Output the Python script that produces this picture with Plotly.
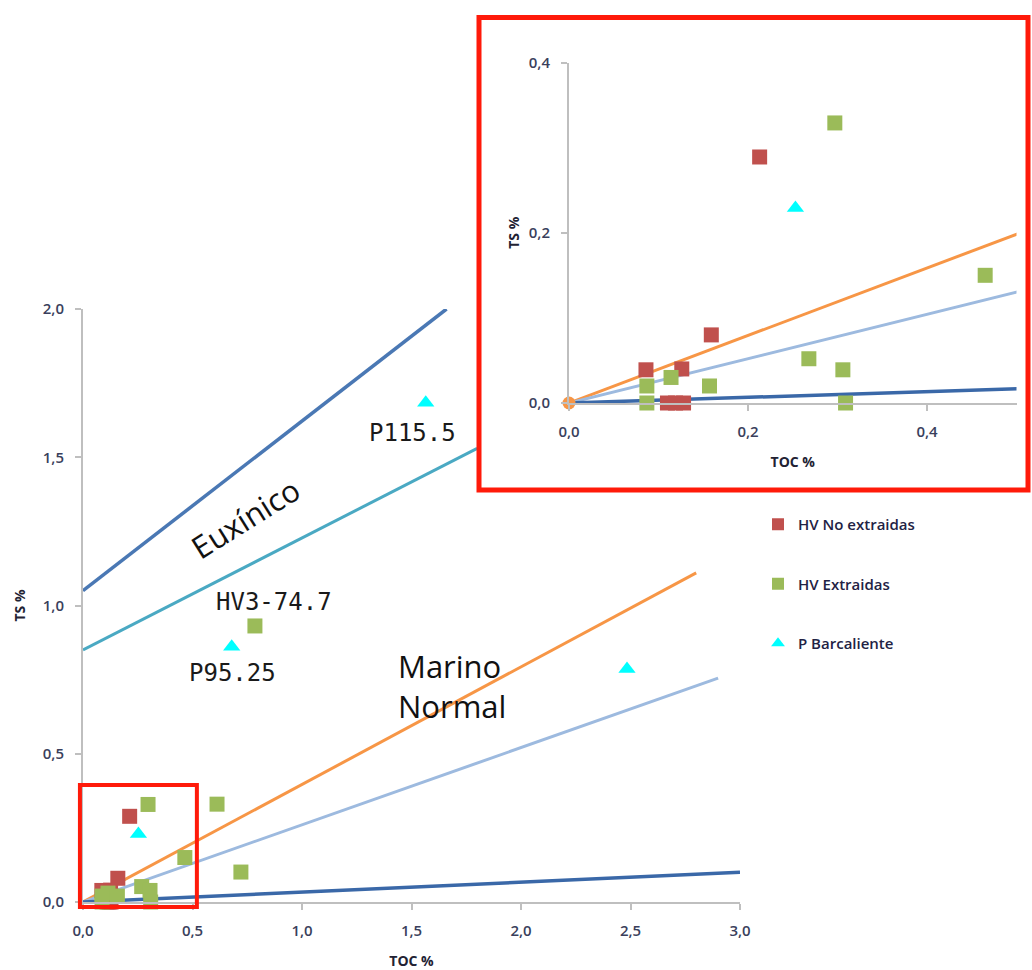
import numpy as np
import plotly.graph_objects as go

# --- Samples (TOC %, TS %) ---
hv_no_toc = [0.086, 0.110, 0.119, 0.128, 0.126, 0.159, 0.213]
hv_no_ts = [0.039, 0.000, 0.000, 0.000, 0.040, 0.080, 0.289]

hv_ext_toc = [0.087, 0.087, 0.114, 0.157, 0.268, 0.306, 0.309, 0.297, 0.465, 0.612, 0.721, 0.785]
hv_ext_ts = [0.000, 0.020, 0.030, 0.020, 0.052, 0.039, 0.000, 0.329, 0.150, 0.330, 0.101, 0.931]

pb_toc = [0.253, 0.679, 1.565, 2.484]
pb_ts = [0.229, 0.861, 1.684, 0.786]

# --- Reference lines (TOC %, TS %) ---
eux_upper_toc = [0.0, 1.66]
eux_upper_ts = [1.05, 2.00]
eux_lower_toc = [0.0, 1.80]
eux_lower_ts = [0.85, 1.53]
marine_toc = [0.0, 2.80]
marine_ts = [0.0, 1.11]
marine_low_toc = [0.0, 2.90]
marine_low_ts = [0.0, 0.755]
oxic_toc = [0.0, 3.00]
oxic_ts = [0.0, 0.10]

# --- Labelled samples ---
label_text = ["P115.5", "P95.25", "HV3\u201174.7"]
label_toc = [1.565, 0.679, 0.785]
label_ts = [1.684, 0.861, 0.931]
label_dx = [-13, 1, 19]
label_dy = [-30, -26, 24]

# --- Axis ranges ---
main_x_range = [0, 3.0]
main_y_range = [0, 2.0]
inset_x_range = [0, 0.5]
inset_y_range = [0, 0.4]

# zoom window drawn on the main axes (TOC %, TS %)
zoom_toc = [-0.014, 0.52]
zoom_ts = [-0.017, 0.395]

W, H = 1032, 970

RED = "#c0504d"
GREEN = "#9bbb59"
CYAN = "#00ffff"
ORANGE = "#f79646"
LIGHT_BLUE = "#9dbadf"
DARK_BLUE = "#3a68a8"
TOP_BLUE = "#4a78b4"
TEAL = "#4aa9c3"
TICK_COLOR = "#3a3f5c"
AXIS_GREY = "#bfbfbf"
FRAME_RED = "#ff1a0a"


def px_x(p):
    return p / W


def px_y(p):
    return 1 - p / H


main_xdom = [px_x(83), px_x(740)]
main_ydom = [px_y(902), px_y(309)]
inset_xdom = [px_x(569), px_x(1016.5)]
inset_ydom = [px_y(403), px_y(62.5)]


def main_to_paper_x(v):
    return main_xdom[0] + (v - main_x_range[0]) / (main_x_range[1] - main_x_range[0]) * (main_xdom[1] - main_xdom[0])


def main_to_paper_y(v):
    return main_ydom[0] + (v - main_y_range[0]) / (main_y_range[1] - main_y_range[0]) * (main_ydom[1] - main_ydom[0])


fig = go.Figure()

line_specs = [
    (eux_upper_toc, eux_upper_ts, TOP_BLUE, 3.5, False),
    (eux_lower_toc, eux_lower_ts, TEAL, 3, False),
    (marine_toc, marine_ts, ORANGE, 3, True),
    (marine_low_toc, marine_low_ts, LIGHT_BLUE, 3, True),
    (oxic_toc, oxic_ts, DARK_BLUE, 3.5, True),
]

# Lines on main axes
for xs, ys, col, w, _ in line_specs:
    fig.add_trace(go.Scatter(x=xs, y=ys, mode="lines", line=dict(color=col, width=w),
                             showlegend=False, hoverinfo="skip", xaxis="x", yaxis="y"))

# Lines on inset axes (clipped by the inset range)
for xs, ys, col, w, inset in line_specs:
    if inset:
        fig.add_trace(go.Scatter(x=xs, y=ys, mode="lines", line=dict(color=col, width=w),
                                 showlegend=False, hoverinfo="skip", xaxis="x2", yaxis="y2"))

# Origin marker of the orange line in the inset
fig.add_trace(go.Scatter(x=[marine_toc[0]], y=[marine_ts[0]], mode="markers",
                         marker=dict(color=ORANGE, size=13), cliponaxis=False,
                         showlegend=False, hoverinfo="skip", xaxis="x2", yaxis="y2"))

series = [
    ("HV No extraidas", hv_no_toc, hv_no_ts, RED, "square", 15),
    ("HV Extraidas", hv_ext_toc, hv_ext_ts, GREEN, "square", 15),
    ("P Barcaliente", pb_toc, pb_ts, CYAN, "triangle-up", 15),
]

for name, xs, ys, col, sym, sz in series:
    fig.add_trace(go.Scatter(x=xs, y=ys, mode="markers", name=name, legendgroup=name,
                             marker=dict(color=col, symbol=sym, size=sz, line=dict(width=0)),
                             cliponaxis=False, xaxis="x", yaxis="y"))

for name, xs, ys, col, sym, sz in series:
    xa = np.array(xs)
    ya = np.array(ys)
    keep = (xa <= inset_x_range[1]) & (ya <= inset_y_range[1])
    fig.add_trace(go.Scatter(x=xa[keep], y=ya[keep], mode="markers", name=name, legendgroup=name,
                             marker=dict(color=col, symbol=sym, size=sz, line=dict(width=0)),
                             cliponaxis=False, showlegend=False, xaxis="x2", yaxis="y2"))

annotations = []
for t, x, y, dx, dy in zip(label_text, label_toc, label_ts, label_dx, label_dy):
    annotations.append(dict(x=x, y=y, xref="x", yref="y", text=t, showarrow=False,
                            xshift=dx, yshift=dy,
                            font=dict(family="DejaVu Sans Mono", size=24, color="#1a1a1a")))

annotations.append(dict(x=0.742, y=1.295, xref="x", yref="y", text="Eux\u00ednico",
                        showarrow=False, textangle=-32,
                        font=dict(family="Open Sans", size=31, color="#111111")))
annotations.append(dict(x=1.43, y=0.727, xref="x", yref="y", text="Marino<br>Normal",
                        showarrow=False, xanchor="left", yanchor="middle", align="left",
                        font=dict(family="Open Sans", size=31, color="#111111")))

tick_font = dict(family="Open Sans", size=15, color=TICK_COLOR, weight=600)
title_font = dict(family="Open Sans", size=14, color="#222233", weight=700)

axis_common = dict(showgrid=False, zeroline=False, showline=True, linecolor=AXIS_GREY,
                   linewidth=2, ticks="outside", ticklen=6, tickcolor=AXIS_GREY, tickwidth=1.5,
                   tickformat=".1f", tickfont=tick_font, ticklabelstandoff=8, automargin=False)

fig.update_layout(
    width=W, height=H, autosize=False,
    margin=dict(l=0, r=0, t=0, b=0, pad=0),
    paper_bgcolor="white", plot_bgcolor="white",
    separators=",.",
    xaxis=dict(domain=main_xdom, range=main_x_range, dtick=0.5, anchor="y",
               title=dict(text="TOC %", font=title_font, standoff=18), **axis_common),
    yaxis=dict(domain=main_ydom, range=main_y_range, dtick=0.5, anchor="x",
               title=dict(text="TS %", font=title_font, standoff=14), **axis_common),
    xaxis2=dict(domain=inset_xdom, range=inset_x_range, dtick=0.2, anchor="y2",
                title=dict(text="TOC %", font=title_font, standoff=17), **axis_common),
    yaxis2=dict(domain=inset_ydom, range=inset_y_range, dtick=0.2, anchor="x2",
                title=dict(text="TS %", font=title_font, standoff=6), **axis_common),
    legend=dict(x=px_x(758), y=px_y(508), xanchor="left", yanchor="top",
                font=dict(family="Open Sans", size=15, color="#222244", weight=600),
                tracegroupgap=37, bgcolor="rgba(0,0,0,0)", itemsizing="constant"),
    annotations=annotations,
    shapes=[
        # zoom window on the main axes
        dict(type="rect", xref="paper", yref="paper",
             x0=main_to_paper_x(zoom_toc[0]), x1=main_to_paper_x(zoom_toc[1]),
             y0=main_to_paper_y(zoom_ts[0]), y1=main_to_paper_y(zoom_ts[1]),
             line=dict(color=FRAME_RED, width=4), fillcolor="rgba(0,0,0,0)", layer="above"),
        # inset frame
        dict(type="rect", xref="paper", yref="paper", x0=px_x(479), x1=px_x(1028),
             y0=px_y(490), y1=px_y(17.5),
             line=dict(color=FRAME_RED, width=5), fillcolor="rgba(0,0,0,0)", layer="above"),
    ],
)

fig.write_html("out.html")
